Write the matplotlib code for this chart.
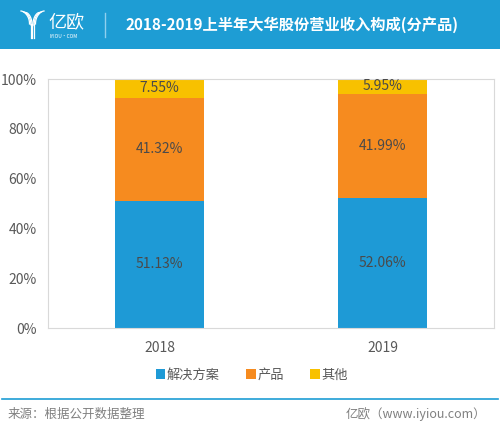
import numpy as np
import matplotlib.pyplot as plt
from matplotlib.patches import Patch

plt.rcParams["font.family"] = ["Noto Sans CJK SC", "DejaVu Sans"]

TITLE = "2018-2019上半年大华股份营业收入构成(分产品)"
YEARS = ["2018", "2019"]
SERIES = ["解决方案", "产品", "其他"]
SOLUTION = [51.13, 52.06]
PRODUCT = [41.32, 41.99]
OTHER = [7.55, 5.95]
Y_TICKS = [0, 20, 40, 60, 80, 100]

COLORS = ["#1E9AD6", "#F68B1F", "#F8C100"]
HEADER_BLUE = "#1E9DD4"
TEXT_GRAY = "#595959"

W, H = 500, 432
fig = plt.figure(figsize=(W / 100, H / 100), dpi=100)
fig.patch.set_facecolor("white")


def px_rect(x0, y0, x1, y1):
    # pixel box (top-left origin) -> figure fraction
    return [x0 / W, 1 - y1 / H, (x1 - x0) / W, (y1 - y0) / H]


# header band
hdr = fig.add_axes(px_rect(0, 0, W, 49))
hdr.set_xlim(0, W)
hdr.set_ylim(49, 0)
hdr.set_facecolor(HEADER_BLUE)
hdr.set_xticks([])
hdr.set_yticks([])
for s in hdr.spines.values():
    s.set_visible(False)

# logo strokes (rough Y mark)
t = np.linspace(0, 1, 30)
for i in range(3):
    xl = 21 + i * 2.6 + (8.5 - i * 1.3) * np.sin(t * np.pi / 2)
    yl = 11 + i * 0.8 + 13 * t ** 1.6
    hdr.plot(xl, yl, color="white", lw=0.9)
    xr = 44 - i * 2.6 - (8.5 - i * 1.3) * np.sin(t * np.pi / 2)
    hdr.plot(xr, yl, color="white", lw=0.9)
for i in range(3):
    x = 30.5 + i * 1.9
    hdr.plot([x, x], [24, 38], color="white", lw=0.9)
hdr.text(48, 22, "亿欧", color="white", fontsize=13, va="center", ha="left")
hdr.text(50, 36.5, "IYIOU·COM", color="white", fontsize=3.5, va="center", ha="left")
hdr.plot([105, 105], [13, 37], color="#8FD0EE", lw=1)
hdr.text(125, 25, TITLE, color="white", fontsize=11, fontweight="bold",
         va="center", ha="left")

# main chart
ax = fig.add_axes(px_rect(48, 79, 494, 328))
x = np.arange(len(YEARS))
width = 0.4
bottom = np.zeros(len(YEARS))
for name, vals, color in zip(SERIES, [SOLUTION, PRODUCT, OTHER], COLORS):
    vals = np.array(vals)
    ax.bar(x, vals, width, bottom=bottom, color=color, label=name)
    for xi, b, v in zip(x, bottom, vals):
        ax.text(xi, b + v / 2, f"{v:.2f}%", ha="center", va="center",
                fontsize=10, color="#4A4A4A")
    bottom += vals

ax.set_xlim(-0.5, 1.5)
ax.set_ylim(0, 100)
ax.set_yticks(Y_TICKS)
ax.set_yticklabels([f"{v}%" for v in Y_TICKS])
ax.set_xticks(x)
ax.set_xticklabels(YEARS)
ax.tick_params(length=0, labelsize=10, colors=TEXT_GRAY)
ax.tick_params(axis="y", pad=8)
ax.tick_params(axis="x", pad=9)
for s in ax.spines.values():
    s.set_color("#D9D9D9")
    s.set_linewidth(0.8)

handles = [Patch(facecolor=c, edgecolor="none") for c in COLORS]
leg = fig.legend(handles, SERIES, loc="center", bbox_to_anchor=(0.504, 1 - 375 / H),
                 ncol=3, frameon=False, fontsize=9.5, handlelength=0.7,
                 handleheight=0.7, handletextpad=0.15, columnspacing=2.0)
for txt in leg.get_texts():
    txt.set_color(TEXT_GRAY)

# footer
ftr = fig.add_axes([0, 0, 1, 1], facecolor="none")
ftr.set_xlim(0, W)
ftr.set_ylim(H, 0)
ftr.axis("off")
ftr.plot([2, 498], [399, 399], color=HEADER_BLUE, lw=1.2)
ftr.text(8, 414, "来源：根据公开数据整理", fontsize=9, color="#808080", va="center")
ftr.text(486, 414, "亿欧（www.iyiou.com）", fontsize=9, color="#808080",
         va="center", ha="right")

fig.savefig("out.png", dpi=100)
